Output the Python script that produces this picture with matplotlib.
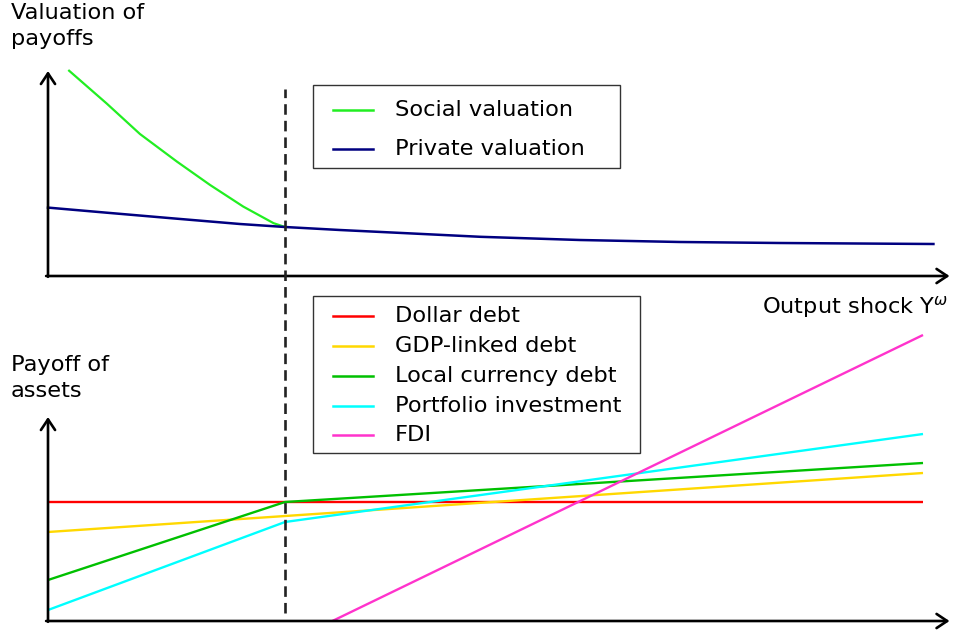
import numpy as np
import matplotlib
matplotlib.use("Agg")
import matplotlib.pyplot as plt
from matplotlib.transforms import Affine2D
from matplotlib.patches import Rectangle
from matplotlib.lines import Line2D

# ---- data (output shock on x, arbitrary payoff units on y) ----
threshold = 2.5

social_x = [0.214, 0.62, 0.97, 1.36, 1.71, 2.06, 2.38, 2.5]
social_y = [10.3, 8.62, 7.10, 5.72, 4.55, 3.47, 2.64, 2.45]

private_x = [0.0, 0.619, 1.322, 2.025, 2.5, 3.08, 3.78, 4.56, 5.61, 6.67, 7.72, 9.34]
private_y = [3.42, 3.165, 2.88, 2.60, 2.45, 2.30, 2.14, 1.96, 1.80, 1.70, 1.65, 1.60]

asset_names = ["Dollar debt", "GDP-linked debt", "Local currency debt",
               "Portfolio investment", "FDI"]
asset_x = [[0.0, 9.23], [0.0, 9.23], [0.0, 2.5, 9.23], [0.0, 2.5, 9.23], [3.0, 9.23]]
asset_y = [[5.95, 5.95], [4.45, 7.4], [2.05, 5.95, 7.9], [0.55, 4.95, 9.35], [0.0, 14.3]]
asset_colors = ["#ff0000", "#ffd800", "#00c000", "#00ffff", "#ff33cc"]

val_names = ["Social valuation", "Private valuation"]
val_colors = ["#22ee22", "#000080"]

W, H = 956, 632
fig = plt.figure(figsize=(W / 100, H / 100), dpi=100)
# pixel coords, y downward, for placing annotations / legend boxes
pix = Affine2D().scale(1 / W, -1 / H).translate(0, 1) + fig.transFigure

FS = 16.2
xscale = 94.8  # px per x unit
yscale = 20.0  # px per y unit
x0px = 48

top = fig.add_axes([0, 0, 1, 1])
bot = fig.add_axes([0, 0, 1, 1])
for ax in (top, bot):
    ax.set_xlim(-x0px / xscale, (W - x0px) / xscale)
    ax.axis("off")
    ax.patch.set_alpha(0)
top.set_ylim((276 - H) / yscale, 276 / yscale)
bot.set_ylim((621 - H) / yscale, 621 / yscale)

arrow = dict(arrowstyle="->,head_length=0.45,head_width=0.3", lw=1.9,
             color="black", shrinkA=0, shrinkB=0, mutation_scale=17)
for ax, ytop in ((top, 10.25), (bot, 10.2)):
    ax.annotate("", xy=(9.51, 0), xytext=(-0.02, 0), arrowprops=arrow)
    ax.annotate("", xy=(0, ytop), xytext=(0, -0.04), arrowprops=arrow)

# top panel
top.plot(social_x, social_y, color=val_colors[0], lw=1.6, solid_capstyle="butt",
         solid_joinstyle="round")
top.plot(private_x, private_y, color=val_colors[1], lw=1.8, solid_joinstyle="round")

# bottom panel
for xs, ys, c in zip(asset_x, asset_y, asset_colors):
    bot.plot(xs, ys, color=c, lw=1.7, solid_capstyle="butt")

# threshold dashed line
bot.plot([threshold, threshold], [0.4, 26.6], color="#222222", lw=1.9,
         linestyle=(0, (4, 2.3)))

# axis labels
fig.text(11, 3, "Valuation of\npayoffs", transform=pix, fontsize=FS,
         va="top", ha="left", linespacing=1.35)
fig.text(11, 355, "Payoff of\nassets", transform=pix, fontsize=FS,
         va="top", ha="left", linespacing=1.35)
fig.text(948, 307, r"Output shock Y$^{\omega}$", transform=pix, fontsize=FS,
         va="center", ha="right")


def draw_legend(box, names, colors, rows_y):
    x1, y1, x2, y2 = box
    fig.add_artist(Rectangle((x1, y2), x2 - x1, y1 - y2, transform=pix,
                             facecolor="white", edgecolor="#333333", lw=1.0))
    for name, c, y in zip(names, colors, rows_y):
        fig.add_artist(Line2D([333, 373], [y, y], transform=pix, color=c, lw=1.8))
        fig.text(395, y, name, transform=pix, fontsize=FS, va="center", ha="left")


draw_legend((313, 85, 620, 168), val_names, val_colors, [110, 149])
draw_legend((313, 296, 640, 453), asset_names, asset_colors,
            [316, 346, 376, 406, 435])

fig.savefig("out.png", dpi=100)
